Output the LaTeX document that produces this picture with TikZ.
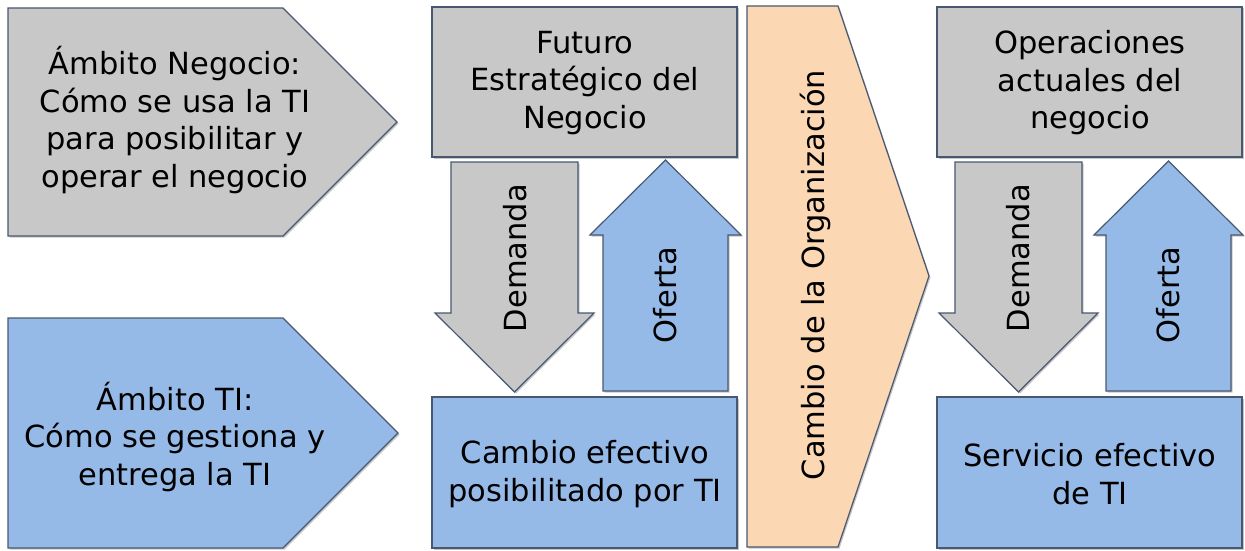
\documentclass[tikz,border=0pt]{standalone}
\usepackage{fontspec}
\setmainfont{DejaVu Sans}
\usetikzlibrary{shadows}
\definecolor{grisbox}{RGB}{200,200,200}
\definecolor{azulbox}{RGB}{150,186,232}
\definecolor{naranja}{RGB}{252,215,180}
\definecolor{borde}{RGB}{72,88,112}
\tikzset{
  caja/.style={draw=borde, line width=1.2pt, line join=miter,
    drop shadow={shadow xshift=1.5pt, shadow yshift=-1.5pt, opacity=0.45}},
  texto/.style={align=center, inner sep=0pt, font=\fontsize{30.5}{37.5}\selectfont}
}
\begin{document}
\begin{tikzpicture}[x=1pt,y=-1pt]
\useasboundingbox (0,0) rectangle (1245,551);
% left pentagons
\filldraw[caja, fill=grisbox] (8,8) -- (283,8) -- (397,122) -- (283,236) -- (8,236) -- cycle;
\filldraw[caja, fill=azulbox] (8,318) -- (283,318) -- (398,433) -- (283,548) -- (8,548) -- cycle;
% first column
\filldraw[caja, fill=grisbox] (432,7) rectangle (737,157);
\filldraw[caja, fill=grisbox] (451,162) -- (578,162) -- (578,313) -- (594,313) -- (514.5,392) -- (435,313) -- (451,313) -- cycle;
\filldraw[caja, fill=azulbox] (603,391) -- (603,235) -- (590,235) -- (665.5,160) -- (741,235) -- (728,235) -- (728,391) -- cycle;
\filldraw[caja, fill=azulbox] (432,397) rectangle (737,548);
% big orange arrow
\filldraw[caja, fill=naranja] (747,6) -- (838,6) -- (929,276) -- (838,547) -- (747,547) -- cycle;
% second column
\filldraw[caja, fill=grisbox] (937,7) rectangle (1242,157);
\filldraw[caja, fill=grisbox] (955,162) -- (1082,162) -- (1082,313) -- (1098,313) -- (1018.5,392) -- (939,313) -- (955,313) -- cycle;
\filldraw[caja, fill=azulbox] (1106,391) -- (1106,235) -- (1094,235) -- (1168.5,161) -- (1243,235) -- (1231,235) -- (1231,391) -- cycle;
\filldraw[caja, fill=azulbox] (937,397) rectangle (1242,548);
% texts
\node[texto] (negocio) at (175,120) {Ámbito Negocio:\\Cómo se usa la TI\\para posibilitar y\\operar el negocio};
\node[texto] (ambitoti) at (175,437) {Ámbito TI:\\Cómo se gestiona y\\entrega la TI};
\node[texto] (futuro) at (585,83) {Futuro\\Estratégico del\\Negocio};
\node[texto, rotate=90] (demanda1) at (515,258) {Demanda};
\node[texto, rotate=90] (oferta1) at (665,295) {Oferta};
\node[texto] (cambioti) at (585,474) {Cambio efectivo\\posibilitado por TI};
\node[texto, rotate=90] (organiz) at (815,275) {Cambio de la Organización};
\node[texto] (operac) at (1090,83) {Operaciones\\actuales del\\negocio};
\node[texto, rotate=90] (demanda2) at (1018,258) {Demanda};
\node[texto, rotate=90] (oferta2) at (1168,295) {Oferta};
\node[texto] (servicio) at (1090,474) {Servicio efectivo\\de TI};
\end{tikzpicture}
\end{document}
